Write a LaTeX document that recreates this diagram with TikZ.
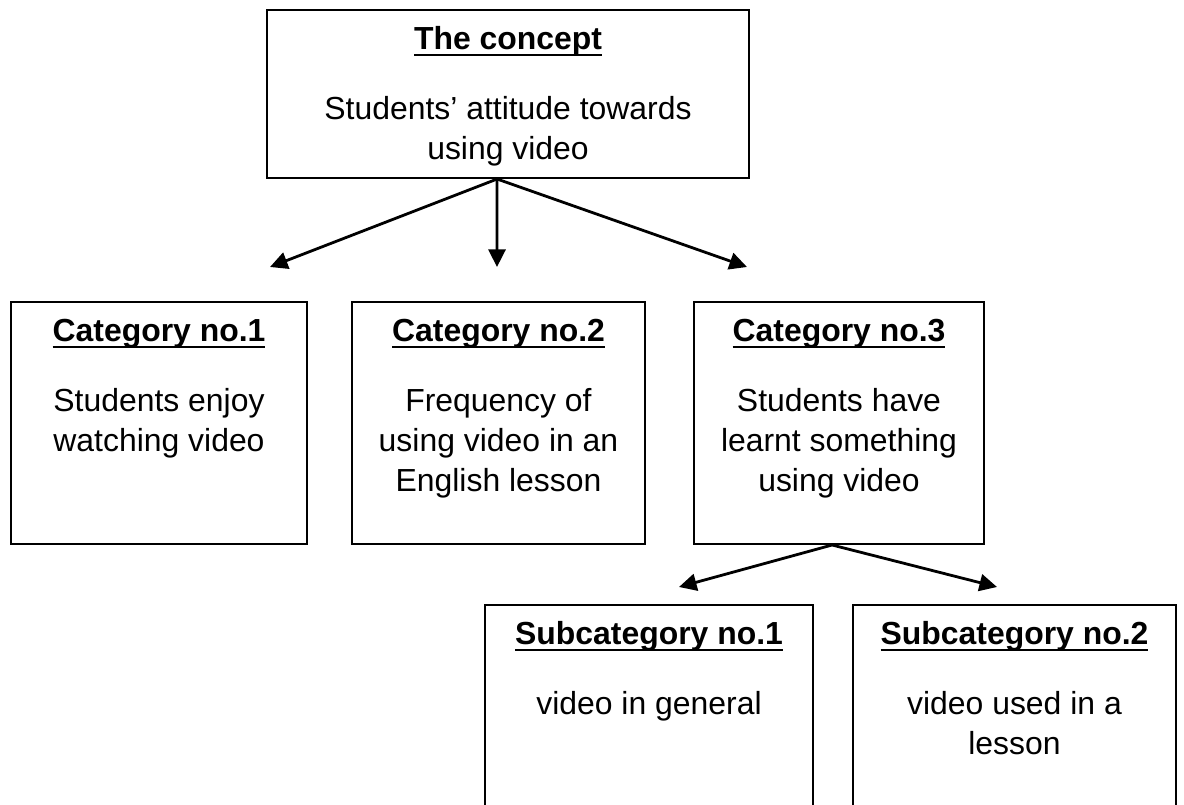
\documentclass[tikz,border=0pt]{standalone}
\usepackage{fontspec}
\setmainfont{Liberation Sans}
\usetikzlibrary{arrows.meta}
\tikzset{
	catbox/.style={draw, line width=0.75pt, inner sep=0pt, font=\fontsize{12pt}{15pt}\selectfont}
}
\tikzset{
	branch/.style={line width=1.05pt, -{Triangle[length=6.6pt, width=6.4pt]}}
}
\newcommand{\boxtitle}[1]{\setbox0\hbox{\bfseries #1}\rlap{\rule[-2.3pt]{\wd0}{0.9pt}}\box0}
\newcommand{\boxtext}[4]{\parbox[c][#2][t]{#1}{\centering\rule{0pt}{15pt}\boxtitle{#3}\par\vspace{11.3pt}#4}}

\begin{document}
\begin{tikzpicture}[x=0.376pt, y=-0.376pt]
      \useasboundingbox (0,0) rectangle (1184,805);
      \clip (0,0) rectangle (1184,805);
      % the concept on top
      \node[catbox] (concept) at (508,94) {\boxtext{181.2pt}{63.2pt}{The concept}{Students’ attitude towards\\using video}};
      % three categories
      \node[catbox] (cat1) at (159,423) {\boxtext{111.3pt}{91pt}{Category no.1}{Students enjoy\\watching video}};
      \node[catbox] (cat2) at (498.5,423) {\boxtext{110.2pt}{91pt}{Category no.2}{Frequency of\\using video in an\\English lesson}};
      \node[catbox] (cat3) at (839,423) {\boxtext{109pt}{91pt}{Category no.3}{Students have\\learnt something\\using video}};
      % subcategories, cut off at the bottom
      \node[catbox] (sub1) at (649,742.5) {\boxtext{123.3pt}{103.4pt}{Subcategory no.1}{video in general}};
      \node[catbox] (sub2) at (1014.5,742.5) {\boxtext{121.4pt}{103.4pt}{Subcategory no.2}{video used in a\\lesson}};
      \coordinate (fork) at ([xshift=-4.1pt]concept.south);
      \coordinate (split) at ([xshift=-2.6pt]cat3.south);
      \coordinate (tip1) at (270,267);
      \coordinate (tip2) at (497,267);
      \coordinate (tip3) at (747,267);
      \coordinate (tip4) at (679,587);
      \coordinate (tip5) at (997,587);
      \draw[branch] (fork) -- (tip1);
      \draw[branch] (fork) -- (tip2);
      \draw[branch] (fork) -- (tip3);
      \draw[branch] (split) -- (tip4);
      \draw[branch] (split) -- (tip5);
    \end{tikzpicture}
\end{document}
